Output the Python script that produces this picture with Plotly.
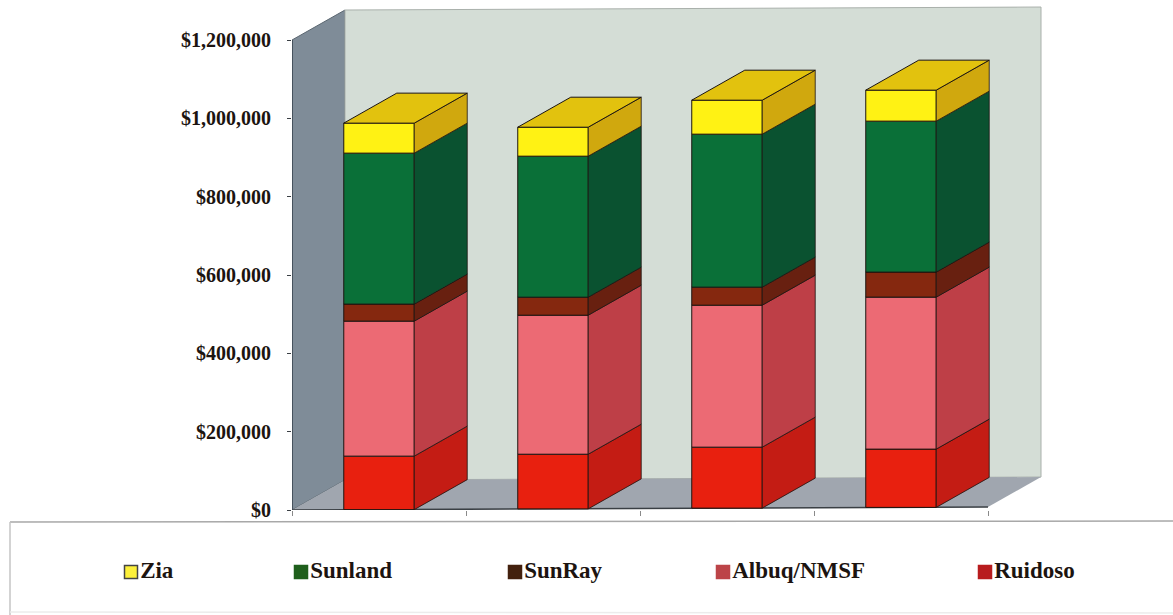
import plotly.graph_objects as go

categories = [1, 2, 3, 4]
ruidoso = [136600, 139600, 155700, 148800]
albuq = [344700, 354900, 362500, 388100]
sunray = [43400, 46000, 46000, 63800]
sunland = [385500, 360000, 390600, 385500]
zia = [76600, 74000, 86800, 79100]
y_ticks = [0, 200000, 400000, 600000, 800000, 1000000, 1200000]
y_tick_labels = ["$0", "$200,000", "$400,000", "$600,000", "$800,000", "$1,000,000", "$1,200,000"]
legend_names = ["Zia", "Sunland", "SunRay", "Albuq/NMSF", "Ruidoso"]
legend_swatch_x = [131, 301, 515, 723, 985]

W, H = 1173, 615
PX_X = 174.0
PX_Y = 391.67 / 1e6
AX_L = 292
AX_R = 1045
AX_B = 510
X_MAX = 0.5 + (AX_R - AX_L) / PX_X
Y_MAX = AX_B / PX_Y
DX = 53 / PX_X
DY = 30 / PX_Y
TILT = 1900.0
BAR_W = 0.405
SERIF = "Liberation Serif"
INK = "#1c1410"


def lift(x):
    return TILT * (x - 0.5)


series = [
    ("Ruidoso", ruidoso, "#e8200f", "#c41c14"),
    ("Albuq/NMSF", albuq, "#ec6a74", "#be3f47"),
    ("SunRay", sunray, "#85280f", "#682010"),
    ("Sunland", sunland, "#0a7038", "#0a5230"),
    ("Zia", zia, "#fff214", "#d0a80e"),
]
swatch = {"Zia": "#fdf03a", "Sunland": "#1f5f1c", "SunRay": "#43210e",
          "Albuq/NMSF": "#bc4448", "Ruidoso": "#b81c1e"}
TOP = "#e2c20e"

fig = go.Figure()


def poly(pts):
    return "M " + " L ".join(f"{a},{b}" for a, b in pts) + " Z"


X0, X1 = 0.5, 4.5
Y1 = 1200000
shapes = [
    dict(type="path", xref="x", yref="y", layer="below", fillcolor="#7f8c98",
         line=dict(color="#5a6670", width=1),
         path=poly([(X0, 0), (X0 + DX, DY), (X0 + DX, Y1 + DY), (X0, Y1)])),
    dict(type="path", xref="x", yref="y", layer="below", fillcolor="#d4ddd6",
         line=dict(color="#a9b0ab", width=1),
         path=poly([(X0 + DX, DY), (X1 + DX, DY + lift(X1)),
                    (X1 + DX, Y1 + DY + lift(X1)), (X0 + DX, Y1 + DY)])),
    dict(type="path", xref="x", yref="y", layer="below", fillcolor="#a0a6af",
         line=dict(color="#a0a6af", width=0),
         path=poly([(X0, 0), (X1, lift(X1)), (X1 + DX, DY + lift(X1)), (X0 + DX, DY)])),
    dict(type="line", xref="x", yref="y", layer="below", x0=X0, y0=0, x1=X1, y1=lift(X1),
         line=dict(color="#3a3f44", width=1.5)),
    dict(type="line", xref="x", yref="y", layer="below", x0=X0, y0=0, x1=X0, y1=Y1,
         line=dict(color="#3a4650", width=1.5)),
    dict(type="line", xref="x2", yref="y2", x0=10, y0=522, x1=W, y1=521,
         line=dict(color="#a8a8a8", width=1.5)),
    dict(type="line", xref="x2", yref="y2", x0=10, y0=522, x1=10, y1=H,
         line=dict(color="#c4c4c4", width=1.5)),
    dict(type="line", xref="x2", yref="y2", x0=10, y0=612, x1=W, y1=613,
         line=dict(color="#ececec", width=1.5)),
]

stack = [lift(c) for c in categories]
for name, values, front, side in series:
    fig.add_trace(go.Bar(x=categories, y=values, base=stack, width=BAR_W, name=name,
                         marker=dict(color=front, line=dict(color=INK, width=1)),
                         showlegend=False, xaxis="x", yaxis="y"))
    new_stack = [b + v for b, v in zip(stack, values)]
    for c, b0, b1 in zip(categories, stack, new_stack):
        xr = c + BAR_W / 2
        fig.add_trace(go.Scatter(
            x=[xr, xr + DX, xr + DX, xr, xr],
            y=[b0, b0 + DY, b1 + DY, b1, b0],
            mode="lines", fill="toself", fillcolor=side,
            line=dict(color=INK, width=0.8), showlegend=False, hoverinfo="skip",
            xaxis="x", yaxis="y"))
    stack = new_stack

for c, t in zip(categories, stack):
    xl, xr = c - BAR_W / 2, c + BAR_W / 2
    fig.add_trace(go.Scatter(
        x=[xl, xr, xr + DX, xl + DX, xl],
        y=[t, t, t + DY, t + DY, t],
        mode="lines", fill="toself", fillcolor=TOP,
        line=dict(color=INK, width=1), showlegend=False, hoverinfo="skip",
        xaxis="x", yaxis="y"))

for name, sx in zip(legend_names, legend_swatch_x):
    fig.add_trace(go.Scatter(
        x=[sx], y=[572], mode="markers+text", text=[name],
        textposition="middle right",
        textfont=dict(family=SERIF, size=23, color=INK, weight="bold"),
        marker=dict(symbol="square", size=13, color=swatch[name],
                    line=dict(color="#444444" if name == "Zia" else swatch[name], width=1.5)),
        showlegend=False, hoverinfo="skip", xaxis="x2", yaxis="y2", cliponaxis=False))

fig.update_layout(
    template="none",
    width=W, height=H, autosize=False,
    margin=dict(l=0, r=0, t=0, b=0, pad=0),
    paper_bgcolor="white", plot_bgcolor="rgba(0,0,0,0)",
    barmode="overlay", showlegend=False, shapes=shapes,
    xaxis=dict(domain=[AX_L / W, AX_R / W], range=[X0, X_MAX], showgrid=False, zeroline=False,
               showline=False, tickmode="array", tickvals=[0.5, 1.5, 2.5, 3.5, 4.5],
               ticktext=["", "", "", "", ""], ticks="outside", ticklen=5, tickcolor="#8a8a8a",
               anchor="y", automargin=False),
    yaxis=dict(domain=[(H - AX_B) / H, 1], range=[0, Y_MAX], showgrid=False, zeroline=False,
               showline=False, tickmode="array", tickvals=y_ticks, ticktext=y_tick_labels,
               ticks="outside", ticklen=4, tickcolor="#3a3f44", ticklabelstandoff=12,
               tickfont=dict(family=SERIF, size=20, color=INK, weight="bold"), anchor="x",
               automargin=False),
    xaxis2=dict(domain=[0, 1], range=[0, W], visible=False, fixedrange=True, anchor="y2",
                automargin=False),
    yaxis2=dict(domain=[0, 1], range=[H, 0], visible=False, fixedrange=True, anchor="x2",
                automargin=False),
)

fig.write_html("out.html", config={"displayModeBar": False},
               post_script="document.body.style.margin='0';document.body.style.overflow='hidden';")
